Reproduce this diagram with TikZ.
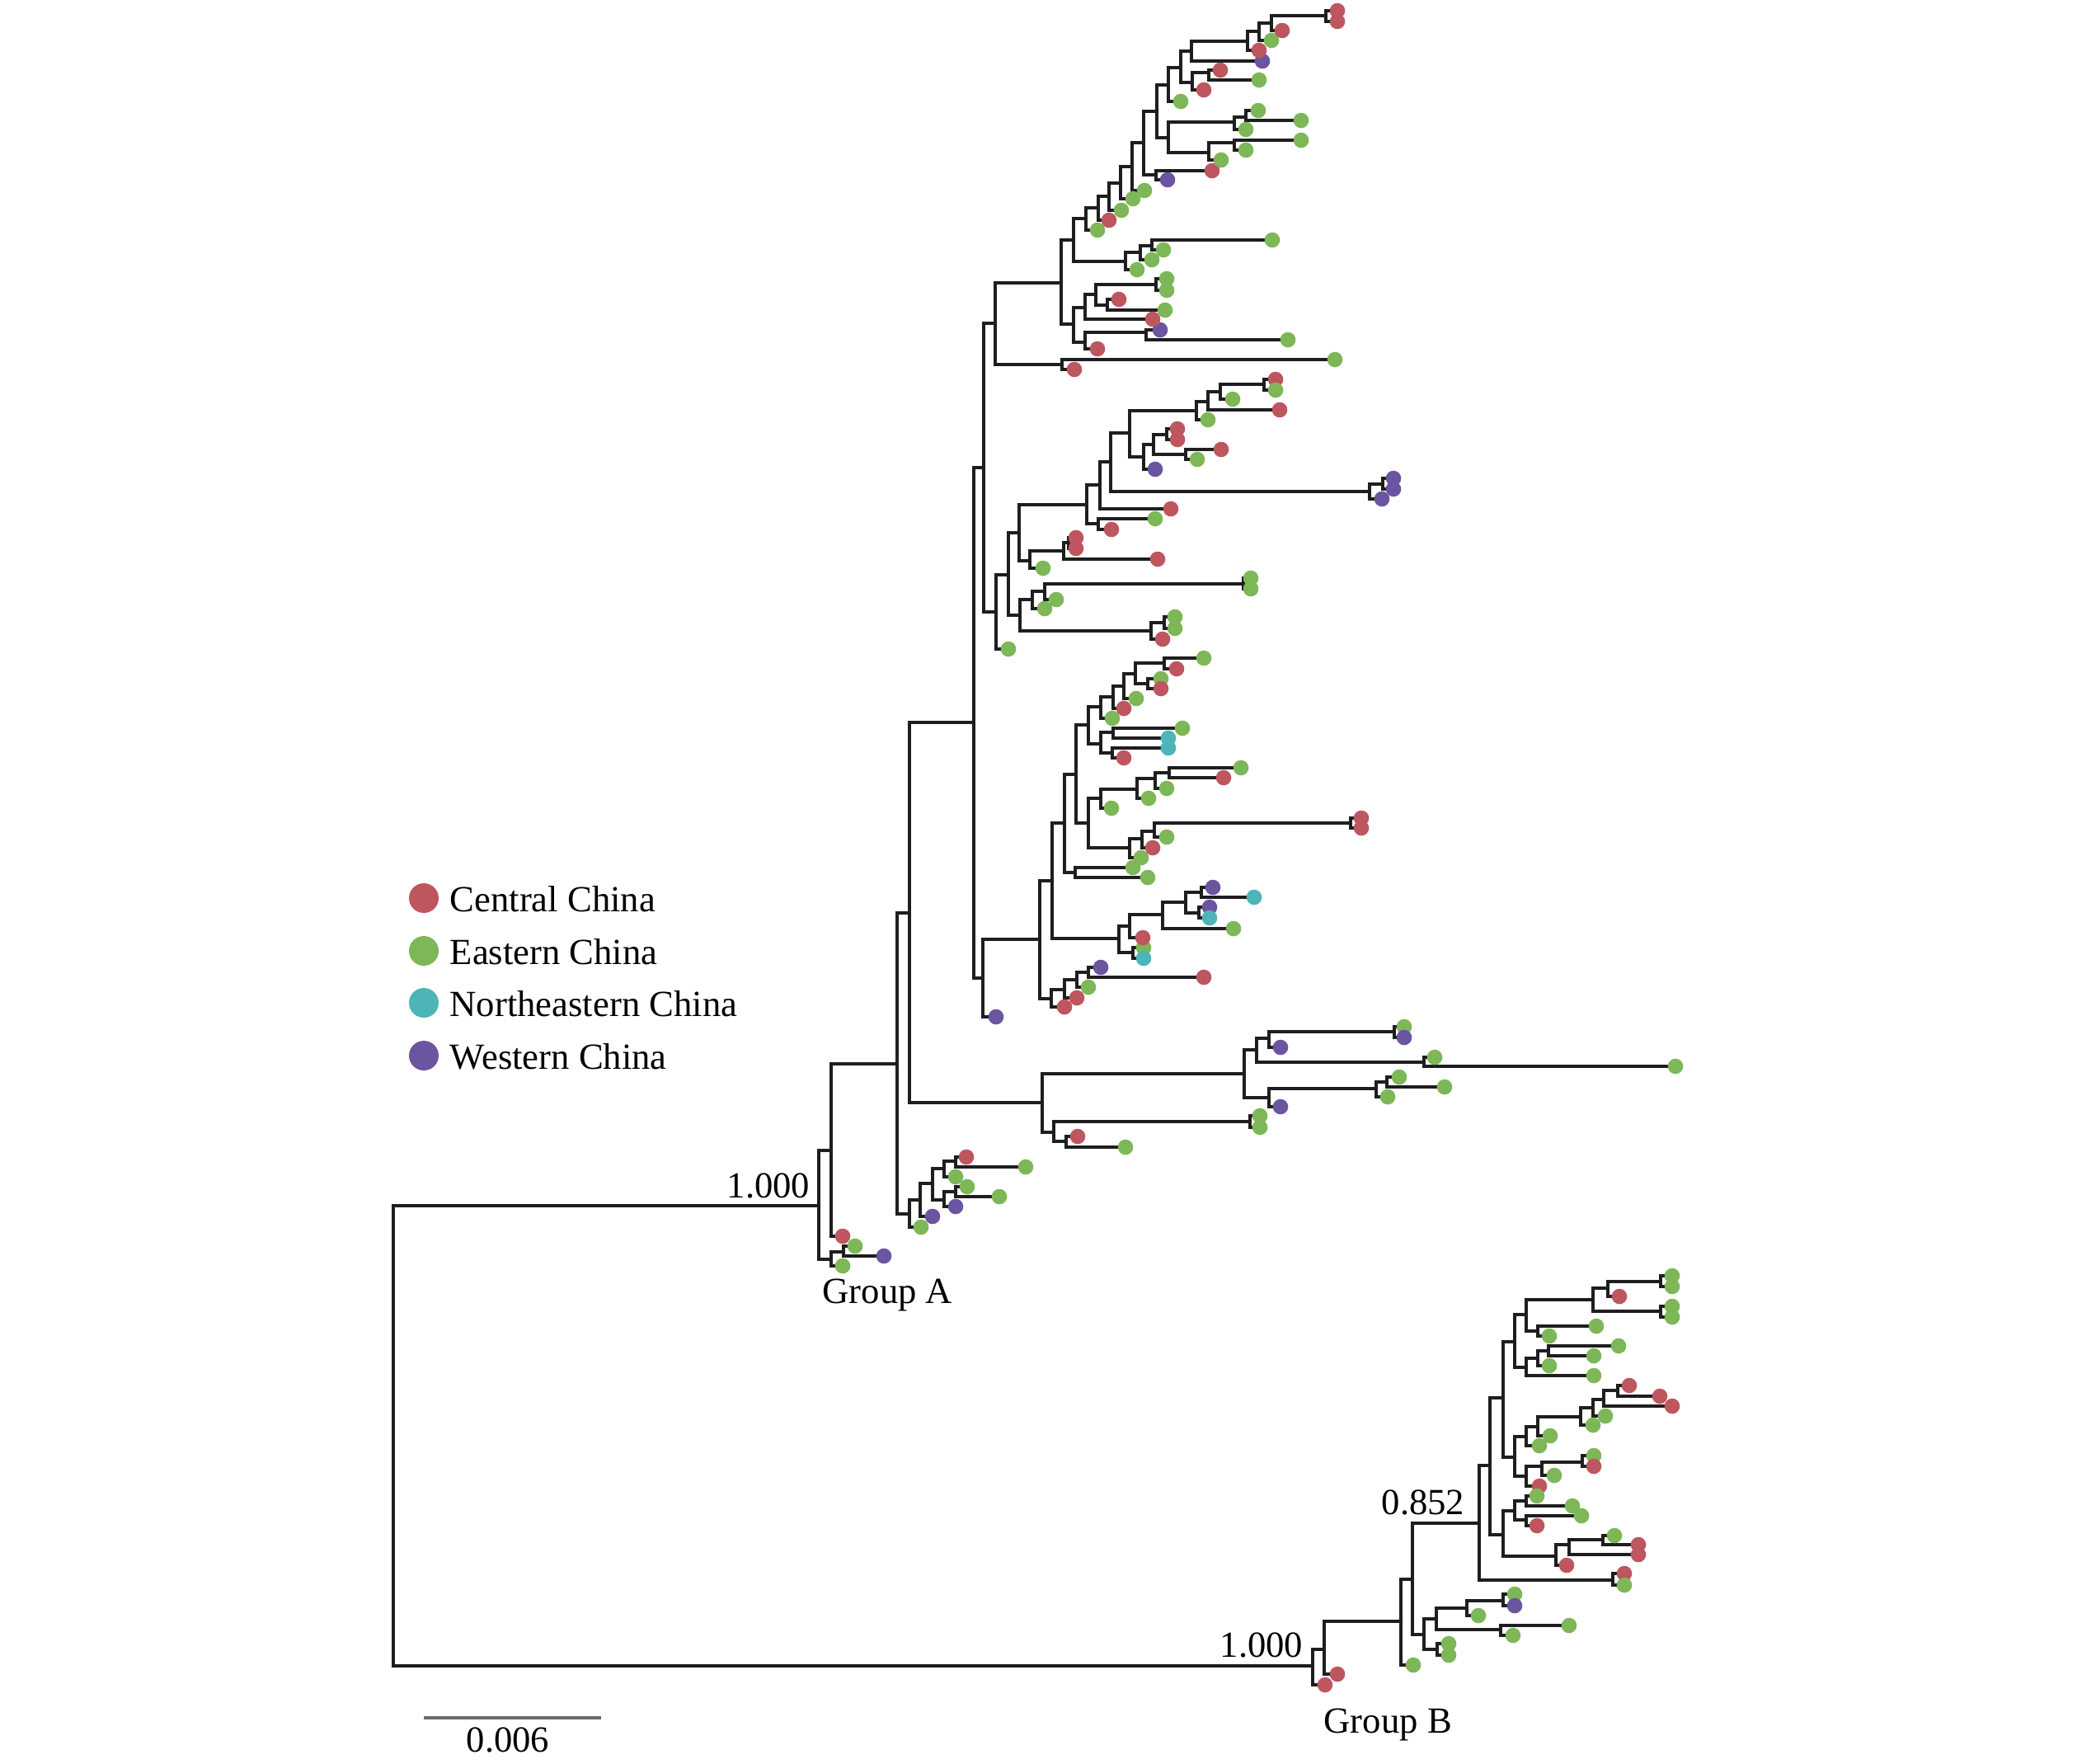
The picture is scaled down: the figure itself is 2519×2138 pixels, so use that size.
\documentclass[tikz,border=0pt]{standalone}
\usepackage{fontspec}
\setmainfont{Liberation Serif}
\definecolor{cc}{HTML}{BE5660}
\definecolor{ec}{HTML}{7DB758}
\definecolor{nc}{HTML}{4DB5B7}
\definecolor{wc}{HTML}{6B55A0}
\definecolor{treeline}{HTML}{1E1E1E}
\definecolor{barcol}{HTML}{6A6A6A}
\tikzset{
  br/.style={draw=treeline, line width=1.0pt},
  lbl/.style={inner sep=0pt, font=\fontsize{12.7}{15}\selectfont, text=black},
  scalebar/.style={draw=barcol, line width=1.2pt}
}
\def\intlist{GA/993/1462/R,GB/1592/2020/R,
A1/1008/1395/GA,A2/1008/1527/GA,A2a/1023/1518/A2,B1/1088/1290/A1,
S1/1103/1472/B1,S2/1116/1455/S1,S3/1131/1435/S2,S4/1145/1417/S3,S5/1145/1455/S3,S6/1159/1408/S4,S7/1159/1445/S5,
B2/1103/1107/B1,T1/1264/1337/B2,T2/1509/1302/T1,T3/1278/1373/T1,T4/1524/1273/T2,T5/1539/1331/T2,
T6/1539/1259/T4,T7/1727/1288/T4,T8/1691/1251/T6,T9/1669/1320/T5,T10/1682/1312/T9,T11/1516/1360/T3,T12/1293/1384/T3,
C1/1181/876/B2,C2/1193/567/C1,C3/1207/392/C2,C4/1287/343/C3,C5/1288/442/C3,
U1/1302/291/C4,U2/1317/265/U1,U3/1365/317/U1,U4/1383/306/U3,U5/1397/298/U4,U6/1332/252/U2,U7/1345/238/U6,
U8/1359/222/U7,U9/1373/202/U8,U10/1387/173/U9,U11/1403/135/U10,U12/1402/212/U10,U13/1417/103/U11,U14/1417/167/U11,
U15/1432/82/U13,U16/1445/62/U15,U17/1446/100/U15,U18/1513/50/U16,U19/1527/38/U18,U20/1542/28/U19,U21/1608/19/U20,
U22/1466/88/U17,U23/1497/148/U14,U24/1466/185/U14,U25/1511/142/U23,U26/1497/173/U24,
V1/1302/393/C4,V2/1316/373/V1,V3/1316/415/V1,V4/1390/403/V3,V5/1329/357/V2,V6/1402/345/V5,V7/1343/370/V5,
M1/1208/742/C2,M2/1223/697/M1,M3/1236/646/M2,M4/1237/746/M2,M5/1318/612/M3,M6/1249/680/M3,M7/1334/588/M5,
M8/1332/635/M5,M9/1347/560/M7,M10/1370/525/M9,M11/1661/596/M9,M12/1677/587/M11,M13/1451/498/M10,M14/1387/554/M10,
M15/1465/487/M13,M16/1480/475/M15,M17/1533/466/M16,M18/1399/539/M14,M19/1415/527/M18,M20/1438/551/M18,
M21/1290/668/M6,M22/1296/658/M21,M23/1252/727/M4,M24/1396/765/M4,M25/1267/717/M23,M26/1508/708/M25,M27/1412/755/M24,
D1/1192/1186/C1,D2/1261/1139/D1,D3/1276/1068/D2,D4/1275/1211/D2,D5/1291/998/D3,D6/1357/1138/D3,D7/1305/939/D5,
D8/1304/1058/D5,D9/1320/879/D7,D10/1320/998/D7,D11/1335/857/D9,D12/1335/902/D9,D13/1350/845/D11,D14/1363/832/D13,
D15/1377/817/D14,D16/1412/804/D15,D17/1392/829/D15,D18/1350/888/D12,D19/1349/913/D12,D20/1335/968/D10,D21/1370/1028/D10,
D22/1379/957/D20,D23/1401/944/D22,D24/1418/937/D23,D25/1385/1017/D21,D26/1400/1008/D25,D27/1638/998/D26,
D28/1370/1123/D6,D29/1374/1155/D6,D30/1410/1109/D28,D31/1438/1094/D30,D32/1457/1082/D31,D33/1454/1107/D31,
D34/1291/1200/D4,D35/1306/1188/D34,D36/1320/1179/D35,
E1/1606/2000/GB,E2/1699/1966/E1,E3/1713/1915/E2,E4/1727/1982/E3,E5/1742/1963/E4,E6/1743/2000/E4,E7/1779/1950/E5,
E8/1820/1976/E5,E9/1823/1941/E7,
F1/1794/1847/E3,F2/1807/1777/F1,F3/1956/1916/F1,F4/1823/1695/F2,F5/1823/1861/F2,F6/1837/1627/F4,F7/1837/1767/F4,
F8/1851/1594/F6,F9/1851/1658/F6,F10/1932/1576/F8,F11/1865/1614/F8,F12/1950/1562/F10,F13/2014/1590/F10,F14/2014/1554/F12,
F15/1865/1647/F9,F16/1878/1638/F15,F17/1851/1742/F7,F18/1851/1790/F7,F19/1865/1730/F17,F20/1917/1718/F19,
F21/1932/1707/F20,F22/1945/1697/F21,F23/1962/1686/F22,F24/1870/1778/F18,F25/1919/1773/F24,F26/1837/1832/F5,
F27/1887/1887/F5,F28/1851/1820/F26,F29/1851/1843/F26,F30/1903/1873/F27,F31/1944/1867/F30}
\def\leaflist{a1/1022/1535/ec/A2,a2/1037/1511/ec/A2a,a3/1072/1523/wc/A2a,a4/1022/1499/cc/A1,
a5/1117/1488/ec/S1,a6/1131/1475/wc/S2,a7/1159/1427/ec/S4,a8/1172/1403/cc/S6,a9/1244/1415/ec/S6,
a10/1159/1463/wc/S5,a11/1173/1439/ec/S7,a12/1212/1451/ec/S7,
t1/1553/1270/wc/T6,t2/1703/1245/ec/T8,t3/1703/1258/wc/T8,t4/1740/1282/ec/T7,t5/2032/1293/ec/T7,
t6/1553/1342/wc/T5,t7/1683/1330/ec/T9,t8/1697/1306/ec/T10,t9/1752/1318/ec/T10,t10/1528/1353/ec/T11,
t11/1528/1367/ec/T11,t12/1307/1378/cc/T12,t13/1365/1391/ec/T12,
c1/1619/436/ec/C5,c2/1303/448/cc/C5,
u1/1379/327/ec/U3,u2/1397/315/ec/U4,u3/1543/291/ec/U5,u4/1411/303/ec/U5,u5/1331/279/ec/U2,u6/1345/267/cc/U6,
u7/1360/255/ec/U7,u8/1374/241/ec/U8,u9/1388/231/ec/U9,u10/1470/207/cc/U12,u11/1416/218/wc/U12,u12/1432/123/ec/U13,
u13/1531/74/wc/U16,u14/1527/61/cc/U18,u15/1542/49/ec/U19,u16/1555/37/cc/U20,u17/1622/13/cc/U21,u18/1622/26/cc/U21,
u19/1460/109/cc/U17,u20/1480/85/cc/U22,u21/1527/97/ec/U22,u22/1511/157/ec/U23,u23/1526/134/ec/U25,u24/1578/146/ec/U25,
u25/1481/194/ec/U24,u26/1578/170/ec/U26,u27/1511/182/ec/U26,
v1/1331/423/cc/V3,v2/1407/400/wc/V4,v3/1562/412/ec/V4,v4/1398/387/cc/V2,v5/1415/338/ec/V6,v6/1415/352/ec/V6,
v7/1357/363/cc/V7,v8/1413/376/ec/V7,
m1/1223/787/ec/M1,m2/1401/629/ec/M8,m3/1348/642/cc/M8,m4/1420/617/cc/M7,m5/1676/605/wc/M11,m6/1690/580/wc/M12,
m7/1690/593/wc/M12,m8/1465/509/ec/M13,m9/1552/497/cc/M15,m10/1495/484/ec/M16,m11/1547/460/cc/M17,m12/1547/473/ec/M17,
m13/1401/569/wc/M14,m14/1428/520/cc/M19,m15/1428/533/cc/M19,m16/1481/545/cc/M20,m17/1452/557/ec/M20,
m18/1265/689/ec/M6,m19/1404/678/cc/M21,m20/1305/652/cc/M22,m21/1305/665/cc/M22,m22/1267/738/ec/M23,
m23/1281/727/ec/M25,m24/1517/701/ec/M26,m25/1517/714/ec/M26,m26/1410/775/cc/M24,m27/1425/748/ec/M27,m28/1425/762/ec/M27,
d1/1208/1233/wc/D1,d2/1374/1052/ec/D8,d3/1392/1064/ec/D8,d4/1349/871/ec/D11,d5/1363/859/cc/D13,d6/1378/847/ec/D14,
d7/1460/798/ec/D16,d8/1427/811/cc/D16,d9/1408/823/ec/D17,d10/1408/835/cc/D17,d11/1434/883/ec/D18,d12/1417/895/nc/D18,
d13/1417/907/nc/D19,d14/1363/919/cc/D19,d15/1348/980/ec/D20,d16/1393/968/ec/D22,d17/1415/956/ec/D23,
d18/1505/931/ec/D24,d19/1484/943/cc/D24,d20/1384/1040/ec/D21,d21/1398/1028/cc/D25,d22/1415/1015/ec/D26,
d23/1651/992/cc/D27,d24/1651/1004/cc/D27,d25/1387/1149/ec/D29,d26/1387/1162/nc/D29,d27/1386/1137/cc/D28,
d28/1496/1126/ec/D30,d29/1471/1076/wc/D32,d30/1521/1088/nc/D32,d31/1467/1100/wc/D33,d32/1467/1113/nc/D33,
d33/1291/1221/cc/D4,d34/1306/1210/cc/D34,d35/1320/1197/ec/D35,d36/1335/1173/wc/D36,d37/1460/1185/cc/D36,
b1/1607/2043/cc/GB,b2/1622/2030/cc/E1,b3/1714/2019/ec/E2,b4/1757/1993/ec/E6,b5/1757/2007/ec/E6,b6/1793/1959/ec/E7,
b7/1837/1933/ec/E9,b8/1837/1947/wc/E9,b9/1903/1971/ec/E8,b10/1835/1983/ec/E8,b11/1970/1908/cc/F3,b12/1970/1922/ec/F3,
b13/1964/1572/cc/F12,b14/2028/1547/ec/F14,b15/2028/1560/ec/F14,b16/2028/1584/ec/F13,b17/2028/1597/ec/F13,
b18/1936/1608/ec/F11,b19/1879/1620/ec/F11,b20/1933/1668/ec/F9,b21/1879/1656/ec/F15,b22/1963/1632/ec/F16,
b23/1933/1644/ec/F16,b24/1867/1753/ec/F17,b25/1880/1741/ec/F19,b26/1932/1728/ec/F20,b27/1947/1717/ec/F21,
b28/2028/1705/cc/F22,b29/1976/1680/cc/F23,b30/2013/1693/cc/F23,b31/1867/1802/cc/F18,b32/1885/1789/ec/F24,
b33/1933/1765/ec/F25,b34/1933/1778/cc/F25,b35/1864/1814/ec/F28,b36/1907/1826/ec/F28,b37/1918/1838/ec/F29,
b38/1864/1850/cc/F29,b39/1900/1898/cc/F27,b40/1987/1885/cc/F30,b41/1958/1862/ec/F31,b42/1987/1873/cc/F31}
\begin{document}
\begin{tikzpicture}[x=0.01cm,y=-0.01cm]
\fill[white] (0,0) rectangle (2519,2138);
\useasboundingbox (0,0) rectangle (2519,2138);
% coordinates
\coordinate (R) at (477,1741);
\foreach \nm/\xx/\yy/\pa in \intlist {\coordinate (\nm) at (\xx,\yy);}
\foreach \nm/\xx/\yy/\col/\pa in \leaflist {\coordinate (\nm) at (\xx,\yy);}
% branches
\foreach \nm/\xx/\yy/\pa in \intlist {\draw[br] (\pa) |- (\nm);}
\foreach \nm/\xx/\yy/\col/\pa in \leaflist {\draw[br] (\pa) |- (\nm);}
% tips
\foreach \nm/\xx/\yy/\col/\pa in \leaflist {\fill[\col] (\nm) circle[radius=0.093cm];}
% labels
\node[lbl, anchor=base east] (gaval) at (983,1452) {1.000};
\node[lbl, anchor=base east] (gbval) at (1581,2009) {1.000};
\node[lbl, anchor=base east] (fval) at (1777,1836) {0.852};
\node[lbl, anchor=base west] (galbl) at (997,1580) {Group A};
\node[lbl, anchor=base west] (gblbl) at (1605,2101) {Group B};
% scale bar
\coordinate (sb1) at (514,2083);
\coordinate (sb2) at (729,2083);
\draw[scalebar] (sb1) -- (sb2);
\node[lbl, anchor=base] (sbl) at (616,2124) {0.006};
% legend
\foreach \k/\yy/\col/\txt in {1/1089/cc/Central China,2/1153/ec/Eastern China,3/1216/nc/Northeastern China,4/1280/wc/Western China}{
  \fill[\col] (514,\yy) circle[radius=0.18cm] coordinate (lgd\k);
  \node[lbl, anchor=base west] (lgt\k) at (545,\yy+16) {\txt};
}
\end{tikzpicture}
\end{document}
